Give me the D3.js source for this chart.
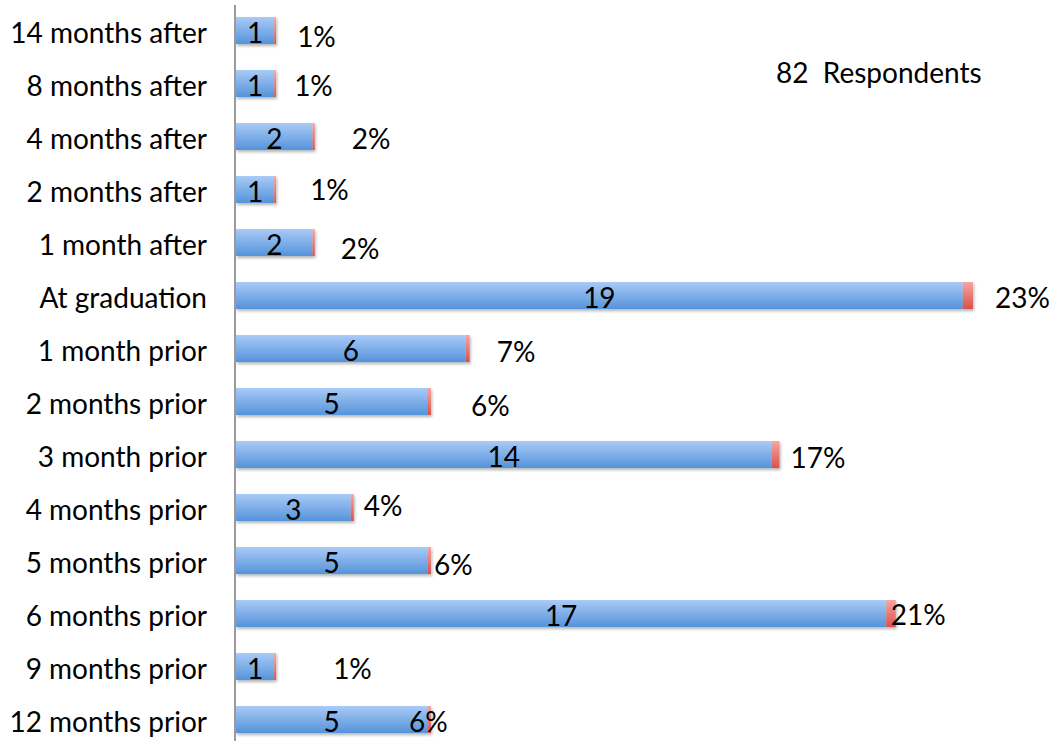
<!DOCTYPE html>
<html>
<head>
<meta charset="utf-8">
<script src="https://cdn.jsdelivr.net/npm/d3@7"></script>
<style>
  body { margin: 0; background: #fff; }
  text { font-family: Lato, "Open Sans", sans-serif; fill: #000; }
</style>
</head>
<body>
<svg id="chart" width="1050" height="741"></svg>
<script>
let categories = ["14 months after", "8 months after", "4 months after", "2 months after", "1 month after",
	"At graduation", "1 month prior", "2 months prior", "3 month prior", "4 months prior",
	"5 months prior", "6 months prior", "9 months prior", "12 months prior"]
let counts = [1, 1, 2, 1, 2, 19, 6, 5, 14, 3, 5, 17, 1, 5]
let percents = [1, 1, 2, 1, 2, 23, 7, 6, 17, 4, 6, 21, 1, 6]
let respondents = 82

// percent labels were dragged around by hand in the original, [dx, dy] in px from the bar end
let pctNudge = [[21, 4], [18, 0], [37, 0], [34, -2], [26, 4], [22, 0], [27, 1], [40, 2], [11, 1], [10, -4], [3, 2], [-5, -1], [57, 0], [-22, 0]]

let svg = d3.select('#chart')
let fontSize = 28

let x = d3.scaleLinear().domain([0, 20]).range([236, 1001])
let y = d3.scaleBand().domain(categories).range([4, 746]).paddingInner(0.49).paddingOuter(0.245)

let defs = svg.append('defs')
let grad = (id, top, bottom) => {
	let g = defs.append('linearGradient').attr('id', id).attr('x1', 0).attr('y1', 0).attr('x2', 0).attr('y2', 1)
	g.append('stop').attr('offset', '0%').attr('stop-color', top)
	g.append('stop').attr('offset', '100%').attr('stop-color', bottom)
}
grad('blue', '#a9cbf7', '#5593da')
grad('red', '#f6a6a1', '#d9514c')
let shadow = defs.append('filter').attr('id', 'shadow').attr('x', '-5%').attr('y', '-20%').attr('width', '110%').attr('height', '160%')
shadow.append('feDropShadow').attr('dx', 1).attr('dy', 2).attr('stdDeviation', 1.5).attr('flood-color', '#000').attr('flood-opacity', 0.3)

let data = categories.map((c, i) => ({ name: c, count: counts[i], pct: percents[i], nudge: pctNudge[i] }))

let rows = svg.selectAll('g.row').data(data).enter().append('g')
	.attr('class', 'row')
	.attr('transform', d => 'translate(0,' + y(d.name) + ')')

let bh = y.bandwidth()

let bars = rows.append('g').attr('filter', 'url(#shadow)')
bars.append('rect')
	.attr('x', x(0))
	.attr('y', 0)
	.attr('width', d => x(d.count) - x(0))
	.attr('height', bh)
	.attr('fill', 'url(#blue)')
bars.append('rect')
	.attr('x', d => x(d.count))
	.attr('y', 0)
	.attr('width', d => x(d.count + d.pct / 100) - x(d.count) + 1.5) // thin slivers still show
	.attr('height', bh)
	.attr('fill', 'url(#red)')

rows.append('text')
	.attr('x', d => (x(0) + x(d.count)) / 2)
	.attr('y', bh / 2 + 3)
	.attr('dy', '0.35em')
	.attr('text-anchor', 'middle')
	.style('font-size', fontSize + 'px')
	.text(d => d.count)

rows.append('text')
	.attr('x', d => x(d.count + d.pct / 100) + 1.5 + d.nudge[0])
	.attr('y', d => bh / 2 + 3 + d.nudge[1])
	.attr('dy', '0.35em')
	.style('font-size', fontSize + 'px')
	.text(d => d.pct + '%')

rows.append('text')
	.attr('x', 207)
	.attr('y', bh / 2 + 3)
	.attr('dy', '0.35em')
	.attr('text-anchor', 'end')
	.style('font-size', fontSize + 'px')
	.text(d => d.name)

// category axis line
svg.append('line')
	.attr('x1', 235).attr('x2', 235)
	.attr('y1', 5).attr('y2', 741)
	.attr('stroke', '#9a9a9a')
	.attr('stroke-width', 2)

svg.append('text')
	.attr('x', 776)
	.attr('y', 73)
	.attr('dy', '0.35em')
	.style('font-size', fontSize + 'px')
	.style('white-space', 'pre')
	.text(respondents + '  Respondents')
</script>
</body>
</html>
